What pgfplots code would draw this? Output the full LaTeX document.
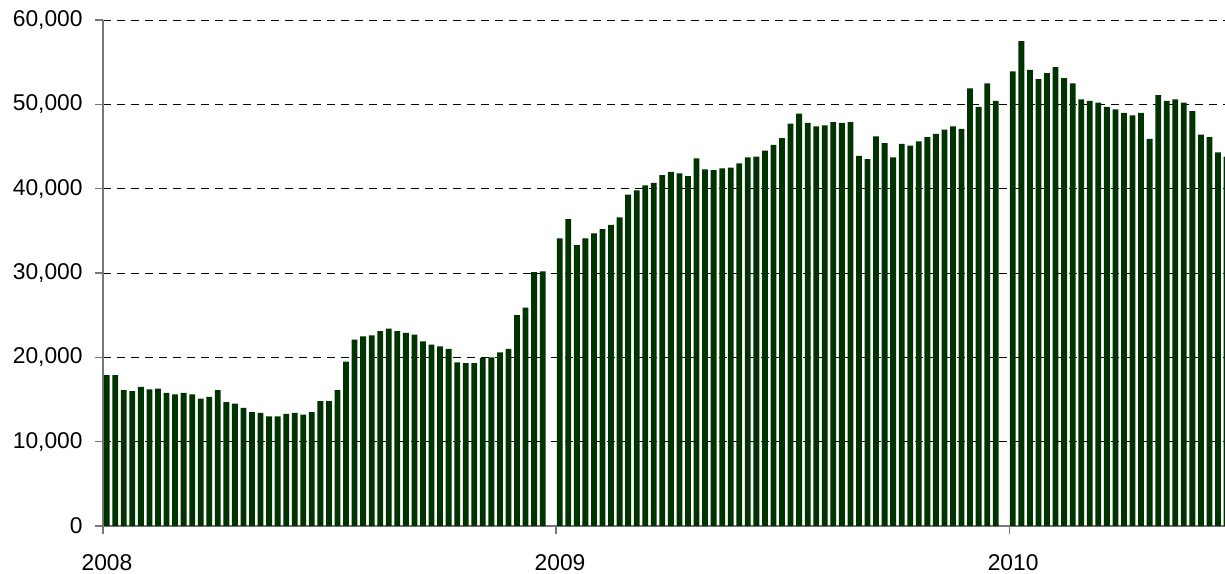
\documentclass[border=0pt]{standalone}
\usepackage{pgfplots}
\pgfplotsset{compat=1.18}
\usepackage{fontspec}
\setmainfont{Liberation Sans}
\definecolor{barg}{HTML}{003300}
\definecolor{axg}{HTML}{777777}

\pgfplotstableread{
x y
0.43 17900
1.43 17900
2.43 16100
3.43 16000
4.43 16500
5.43 16200
6.43 16300
7.43 15800
8.43 15600
9.43 15800
10.43 15600
11.43 15100
12.43 15300
13.43 16100
14.43 14700
15.43 14500
16.43 14000
17.43 13500
18.43 13400
19.43 13000
20.43 13000
21.43 13300
22.43 13400
23.43 13200
24.43 13500
25.43 14800
26.43 14800
27.43 16100
28.43 19500
29.43 22100
30.43 22500
31.43 22600
32.43 23100
33.43 23400
34.43 23100
35.43 22900
36.43 22700
37.43 21900
38.43 21500
39.43 21300
40.43 21000
41.43 19400
42.43 19300
43.43 19300
44.43 19900
45.43 20000
46.43 20600
47.43 21000
48.43 25000
49.43 25900
50.43 30100
51.43 30200
}\yrA

\pgfplotstableread{
x y
53.43 34100
54.43 36400
55.43 33300
56.43 34100
57.43 34700
58.43 35200
59.43 35700
60.43 36600
61.43 39300
62.43 39800
63.43 40400
64.43 40700
65.43 41600
66.43 42000
67.43 41800
68.43 41500
69.43 43600
70.43 42300
71.43 42200
72.43 42400
73.43 42500
74.43 43000
75.43 43700
76.43 43800
77.43 44500
78.43 45200
79.43 46000
80.43 47700
81.43 48900
82.43 47800
83.43 47400
84.43 47500
85.43 47900
86.43 47800
87.43 47900
88.43 43900
89.43 43500
90.43 46200
91.43 45400
92.43 43700
93.43 45300
94.43 45100
95.43 45600
96.43 46100
97.43 46500
98.43 47000
99.43 47400
100.43 47100
101.43 51900
102.43 49700
103.43 52500
104.43 50400
}\yrB

\pgfplotstableread{
x y
106.43 53900
107.43 57500
108.43 54100
109.43 53000
110.43 53700
111.43 54400
112.43 53100
113.43 52500
114.43 50600
115.43 50400
116.43 50200
117.43 49700
118.43 49400
119.43 49000
120.43 48700
121.43 49000
122.43 45900
123.43 51100
124.43 50400
125.43 50600
126.43 50200
127.43 49200
128.43 46400
129.43 46100
130.43 44300
131.43 43800
}\yrC

\begin{document}
\fontsize{11.3pt}{13.5pt}\selectfont
\begin{tikzpicture}
\useasboundingbox (-51.5pt,-23.5pt) rectangle (561pt,263pt);
\begin{axis}[
  scale only axis,
  width=561pt, height=253pt,
  xmin=0, xmax=131.25,
  ymin=0, ymax=60000,
  axis x line*=bottom, axis y line*=left,
  axis line style={axg, line width=0.6pt},
  tick style={axg, line width=0.6pt},
  tick align=outside,
  major tick length=3.75pt,
  xtick={0,53,106},
  xticklabels={2008,2009,2010},
  ytick={0,10000,20000,30000,40000,50000,60000},
  scaled y ticks=false,
  /pgf/number format/assume math mode=true,
  yticklabel={\pgfmathprintnumber[fixed,1000 sep={,}]{\tick}},
  yticklabel style={xshift=-2.5pt},
  xticklabel style={yshift=-6.8pt, xshift=2pt},
  ymajorgrids,
  xmajorgrids=false,
  major grid style={black, line width=0.5pt, dash pattern=on 4pt off 3pt},
  ybar, bar width=0.68, bar shift=0pt,
  tick label style={font=\fontsize{11.4pt}{13.5pt}\selectfont},
]
\addplot[fill=barg, draw=none] table[x=x,y=y] {\yrA};
\addplot[fill=barg, draw=none] table[x=x,y=y] {\yrB};
\addplot[fill=barg, draw=none] table[x=x,y=y] {\yrC};
\end{axis}
\end{tikzpicture}
\end{document}
